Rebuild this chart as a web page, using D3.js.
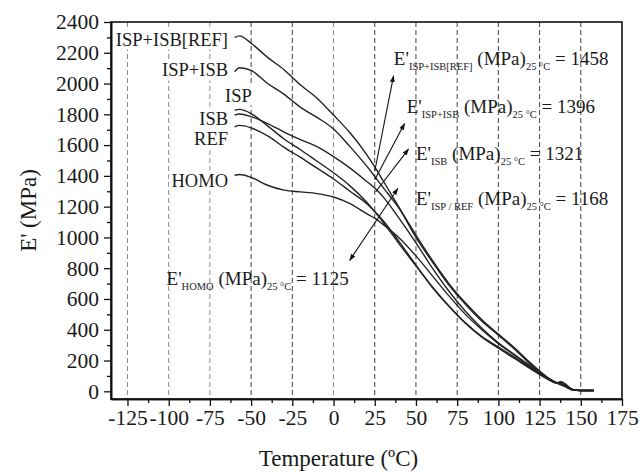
<!DOCTYPE html>
<html>
<head>
<meta charset="utf-8">
<script src="https://cdn.jsdelivr.net/npm/d3@7"></script>
<style>
body { margin: 0; background: #fff; }
</style>
</head>
<body>
<svg id="chart" width="641" height="472"></svg>
<script>
// temperatures (°C) shared by all curves
const temps = [-60, -57, -50, -40, -30, -20, -10, 0, 10, 20, 25, 30, 40, 50, 60, 70, 80, 90, 100, 110, 120, 130, 135, 138, 141, 145, 150, 158]

// storage modulus E' (MPa) for each sample
const ispIsbRef = [2300, 2310, 2262, 2170, 2090, 1990, 1905, 1795, 1680, 1540, 1458, 1370, 1190, 1015, 850, 700, 575, 465, 372, 280, 180, 90, 58, 45, 30, 12, 5, 5]
const ispIsb    = [2077, 2103, 2085, 2000, 1930, 1845, 1780, 1705, 1590, 1465, 1396, 1325, 1185, 1000, 840, 690, 565, 455, 365, 272, 170, 82, 55, 42, 28, 10, 5, 5]
const isp       = [1827, 1832, 1805, 1725, 1640, 1570, 1495, 1420, 1335, 1230, 1168, 1100, 955, 815, 675, 555, 445, 355, 288, 220, 150, 85, 55, 62, 45, 12, 5, 5]
const isb       = [1795, 1802, 1785, 1740, 1685, 1635, 1590, 1525, 1450, 1365, 1321, 1265, 1120, 965, 800, 650, 520, 410, 315, 235, 155, 80, 55, 60, 40, 10, 5, 5]
const ref       = [1719, 1728, 1712, 1660, 1585, 1520, 1450, 1380, 1300, 1220, 1168, 1110, 970, 820, 678, 552, 442, 352, 280, 212, 142, 78, 55, 50, 35, 10, 5, 5]
const homo      = [1404, 1409, 1390, 1339, 1307, 1296, 1285, 1263, 1220, 1155, 1125, 1085, 995, 880, 750, 620, 500, 400, 310, 235, 160, 85, 58, 50, 32, 8, 5, 5]

const seriesNames = ["ISP+ISB[REF]", "ISP+ISB", "ISP", "ISB", "REF", "HOMO"]
const seriesValues = [ispIsbRef, ispIsb, isp, isb, ref, homo]

const xTicks = d3.range(-125, 176, 25)
const xMinor = d3.range(-112.5, 175, 25)
const yTicks = d3.range(0, 2401, 200)
const yMinor = d3.range(100, 2400, 200)

// E' at 25 °C annotations
const annSubs = ["ISP+ISB[REF]", "ISP+ISB", "ISB", "ISP / REF", "HOMO"]
const annValues = [1458, 1396, 1321, 1168, 1125]

const serif = "'Liberation Serif', 'Times New Roman', serif"
const svg = d3.select("#chart")
const margin = {left: 111, right: 19, top: 22, bottom: 73}
const W = +svg.attr("width"), H = +svg.attr("height")

const x = d3.scaleLinear().domain([-135, 175]).range([margin.left, W - margin.right])
const y = d3.scaleLinear().domain([-50, 2400]).range([H - margin.bottom, margin.top])

// dashed verticals
svg.append("g")
    .selectAll("line")
    .data(xTicks.filter(t => t < 175))
    .join("line")
        .attr("x1", d => x(d)).attr("x2", d => x(d))
        .attr("y1", y(2400)).attr("y2", y(-50))
        .attr("stroke", d => (d <= -75 || d == 0) ? "#8a8a8a" : "#444")
        .attr("stroke-width", 1)
        .attr("stroke-dasharray", "5,3")

// series labels near the curve starts (white box hides the grid behind)
const labelE = [2289, 2088, 1925, 1775, 1643, 1372]
const labelG = svg.append("g")
const labels = labelG.selectAll("text")
    .data(seriesNames)
    .join("text")
        .attr("x", (d, i) => i == 2 ? x(-49.6) : x(-64))
        .attr("y", (d, i) => y(labelE[i]))
        .attr("dy", "0.35em")
        .attr("text-anchor", "end")
        .attr("font-size", 18.5)
        .style("font-family", serif)
        .style("fill", "#1a1a1a")
        .text(d => d)
labels.each(function() {
    const b = this.getBBox()
    labelG.insert("rect", "text")
        .attr("x", b.x - 2).attr("y", b.y)
        .attr("width", b.width + 4).attr("height", b.height)
        .attr("fill", "#fff")
})

// curves
const line = d3.line()
    .x((d, i) => x(temps[i]))
    .y(d => y(d))
    .curve(d3.curveMonotoneX)

svg.append("g")
    .attr("fill", "none")
    .attr("stroke", "#222")
    .attr("stroke-width", 1.4)
    .selectAll("path")
    .data(seriesValues)
    .join("path")
        .attr("d", line)

// frame
svg.append("rect")
    .attr("x", x(-135)).attr("y", y(2400))
    .attr("width", x(175) - x(-135)).attr("height", y(-50) - y(2400))
    .attr("fill", "none").attr("stroke", "#111").attr("stroke-width", 1.6)

// axes
svg.append("g")
    .attr("transform", `translate(0,${y(-50)})`)
    .call(d3.axisBottom(x).tickValues(xTicks).tickFormat(d => String(d)).tickSize(7).tickPadding(4).tickSizeOuter(0))
svg.append("g")
    .attr("transform", `translate(0,${y(-50)})`)
    .call(d3.axisBottom(x).tickValues(xMinor).tickSize(4).tickFormat("").tickSizeOuter(0))
svg.append("g")
    .attr("transform", `translate(${x(-135)},0)`)
    .call(d3.axisLeft(y).tickValues(yTicks).tickFormat(d => String(d)).tickSize(7).tickPadding(5).tickSizeOuter(0))
svg.append("g")
    .attr("transform", `translate(${x(-135)},0)`)
    .call(d3.axisLeft(y).tickValues(yMinor).tickSize(4).tickFormat("").tickSizeOuter(0))

svg.selectAll(".domain").attr("stroke", "#111").attr("stroke-width", 1.6)
svg.selectAll(".tick line").attr("stroke", "#111").attr("stroke-width", 1.3)
svg.selectAll(".tick text").attr("font-size", 21.5).attr("fill", "#1a1a1a")

// axis titles
svg.append("text")
    .attr("x", (x(-135) + x(175)) / 2 - 28).attr("y", 466)
    .attr("text-anchor", "middle").attr("font-size", 23)
    .text("Temperature (ºC)")
svg.append("text")
    .attr("transform", `translate(36,${(y(2400) + y(-50)) / 2}) rotate(-90)`)
    .attr("text-anchor", "middle").attr("font-size", 23)
    .text("E' (MPa)")

// arrow markers
const defs = svg.append("defs")
defs.append("marker")
    .attr("id", "head")
    .attr("viewBox", "0 0 10 10")
    .attr("refX", 9).attr("refY", 5)
    .attr("markerWidth", 7).attr("markerHeight", 7)
    .attr("markerUnits", "userSpaceOnUse")
    .attr("orient", "auto")
    .append("path").attr("d", "M0,1.5L10,5L0,8.5Z").attr("fill", "#111")
defs.append("marker")
    .attr("id", "headStart")
    .attr("viewBox", "0 0 10 10")
    .attr("refX", 1).attr("refY", 5)
    .attr("markerWidth", 7).attr("markerHeight", 7)
    .attr("markerUnits", "userSpaceOnUse")
    .attr("orient", "auto")
    .append("path").attr("d", "M10,1.5L0,5L10,8.5Z").attr("fill", "#111")

// arrows: from near the 25 °C crossing to the text (data coordinates)
const arrows = [
    {from: [25, 1430], to: [36.4, 2050], both: false},
    {from: [25, 1375], to: [43.1, 1740], both: false},
    {from: [25.5, 1295], to: [45.5, 1574], both: false},
    {from: [9.8, 851], to: [39, 1318], both: true}
]
svg.append("g")
    .selectAll("line")
    .data(arrows)
    .join("line")
        .attr("x1", d => x(d.from[0])).attr("y1", d => y(d.from[1]))
        .attr("x2", d => x(d.to[0])).attr("y2", d => y(d.to[1]))
        .attr("stroke", "#111").attr("stroke-width", 1.1)
        .attr("marker-end", "url(#head)")
        .attr("marker-start", d => d.both ? "url(#headStart)" : null)

// annotation text positions (T, E at baseline)
const annPos = [[36.6, 2120], [44.4, 1810], [50, 1502], [50, 1209], [-101.3, 688]]
const ann = svg.append("g").selectAll("text")
    .data(annSubs)
    .join("text")
        .attr("x", (d, i) => x(annPos[i][0]))
        .attr("y", (d, i) => y(annPos[i][1]))
        .attr("font-size", 19)
ann.append("tspan").text("E'")
ann.append("tspan").attr("font-size", 10.5).attr("dy", 5).text(d => d)
ann.append("tspan").attr("dy", -5).text(" (MPa)")
ann.append("tspan").attr("font-size", 10.5).attr("dy", 5).text("25 °C")
ann.append("tspan").attr("dy", -5).text((d, i) => " = " + annValues[i])

// one serif face for every text
svg.selectAll("g").attr("font-family", null)
svg.selectAll("text").style("font-family", serif).style("fill", "#1a1a1a")
</script>
</body>
</html>
